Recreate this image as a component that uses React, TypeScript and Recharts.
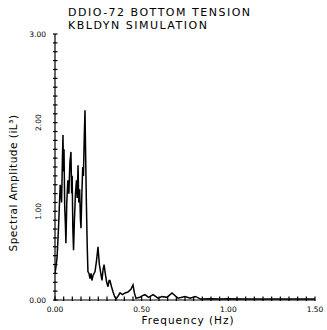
import React from "react";
import { LineChart, Line, XAxis, YAxis } from "recharts";

const freq = [
  0.0, 0.006, 0.012, 0.02, 0.03, 0.038, 0.043, 0.046, 0.049, 0.052, 0.056, 0.06, 0.063,
  0.068, 0.074, 0.08, 0.086, 0.092, 0.096, 0.099, 0.103, 0.107, 0.112, 0.118, 0.124,
  0.128, 0.133, 0.137, 0.142, 0.147, 0.15, 0.155, 0.16, 0.164, 0.169, 0.173, 0.177,
  0.181, 0.186, 0.19, 0.196, 0.202, 0.208, 0.213, 0.22, 0.231, 0.24, 0.248, 0.256,
  0.264, 0.271, 0.277, 0.283, 0.29, 0.298, 0.306, 0.312, 0.317, 0.326, 0.335, 0.344,
  0.352, 0.363, 0.375, 0.39, 0.404, 0.421, 0.438, 0.45, 0.458, 0.467, 0.49, 0.505,
  0.519, 0.54, 0.566, 0.594, 0.617, 0.646, 0.675, 0.71, 0.75, 0.78, 0.81, 0.84, 0.9,
  0.95, 1.0, 1.1, 1.2, 1.3, 1.4, 1.5,
];
const amplitude = [
  0.3, 0.38, 0.48, 0.8, 1.3, 1.1, 1.6, 1.86, 1.45, 1.7, 1.05, 0.85, 0.64,
  1.1, 1.35, 1.2, 1.55, 1.67, 1.2, 1.4, 0.8, 0.56, 0.9, 1.2, 1.35,
  1.15, 1.52, 1.1, 1.25, 0.9, 0.81, 1.2, 1.5, 1.4, 1.85, 2.14, 1.6,
  1.1, 0.6, 0.32, 0.3, 0.24, 0.3, 0.22, 0.28, 0.32, 0.45, 0.6, 0.4,
  0.3, 0.22, 0.34, 0.4, 0.3, 0.2, 0.15, 0.22, 0.22, 0.15, 0.09, 0.04,
  0.01, 0.04, 0.08, 0.06, 0.08, 0.09, 0.12, 0.17, 0.08, 0.02, 0.03, 0.05,
  0.06, 0.03, 0.06, 0.02, 0.04, 0.03, 0.08, 0.02, 0.04, 0.02, 0.04, 0.01, 0.015,
  0.01, 0.015, 0.01, 0.01, 0.01, 0.01, 0.01,
];

const yTicks = [
  0, 0.1, 0.2, 0.3, 0.4, 0.5, 0.6, 0.7, 0.8, 0.9, 1.0, 1.1, 1.2, 1.3, 1.4, 1.5, 1.6,
  1.7, 1.8, 1.9, 2.0, 2.1, 2.2, 2.3, 2.4, 2.5, 2.6, 2.7, 2.8, 2.9, 3.0,
];
const xTicks = [
  0, 0.05, 0.1, 0.15, 0.2, 0.25, 0.3, 0.35, 0.4, 0.45, 0.5, 0.55, 0.6, 0.65, 0.7, 0.75,
  0.8, 0.85, 0.9, 0.95, 1.0, 1.05, 1.1, 1.15, 1.2, 1.25, 1.3, 1.35, 1.4, 1.45, 1.5,
];
const xMajor = [0, 0.5, 1.0, 1.5];
const yMajorHorizontal = [0, 3];
const yMajorRotated = [1, 2];

const data = freq.map((f, i) => ({ f, a: amplitude[i] }));

const FONT = "'DejaVu Sans', sans-serif";

const YTick = (props: any) => {
  const { x, y, payload } = props;
  const v = payload.value;
  const near = (arr: number[]) => arr.some((m) => Math.abs(m - v) < 1e-6);
  return (
    <g>
      <line x1={x - 2} x2={x + 2.5} y1={y} y2={y} stroke="#000" strokeWidth={1.2} />
      {near(yMajorHorizontal) && (
        <text x={x - 9} y={y + 3} textAnchor="end" fontSize={7.5} fontFamily={FONT} fill="#000">
          {v.toFixed(2)}
        </text>
      )}
      {near(yMajorRotated) && (
        <text
          x={x - 14}
          y={y}
          textAnchor="middle"
          fontSize={7.5}
          fontFamily={FONT}
          fill="#000"
          transform={`rotate(-90 ${x - 14} ${y})`}
        >
          {v.toFixed(2)}
        </text>
      )}
    </g>
  );
};

const XTick = (props: any) => {
  const { x, y, payload } = props;
  const v = payload.value;
  const major = xMajor.some((m) => Math.abs(m - v) < 1e-6);
  return (
    <g>
      <line x1={x} x2={x} y1={y - 3.5} y2={y + 1} stroke="#000" strokeWidth={1.2} />
      {major && (
        <text x={x} y={y + 12} textAnchor="middle" fontSize={7.5} fontFamily={FONT} fill="#000">
          {v.toFixed(2)}
        </text>
      )}
    </g>
  );
};

export default function App() {
  return (
    <div style={{ position: "absolute", left: 0, top: 0, width: 327, height: 330, background: "#fff" }}>
      <LineChart
        width={327}
        height={330}
        data={data}
        margin={{ top: 34, right: 12, bottom: 0, left: 0 }}
      >
        <XAxis
          type="number"
          dataKey="f"
          domain={[0, 1.5]}
          ticks={xTicks}
          interval={0}
          tickSize={0}
          tickMargin={0}
          tickLine={false}
          tick={<XTick />}
          height={30}
          axisLine={{ stroke: "#000", strokeWidth: 1.2 }}
          allowDataOverflow
        />
        <YAxis
          type="number"
          domain={[0, 3]}
          ticks={yTicks}
          interval={0}
          tickSize={0}
          tickMargin={0}
          tickLine={false}
          tick={<YTick />}
          width={55}
          axisLine={{ stroke: "#000", strokeWidth: 1.2 }}
          allowDataOverflow
        />
        <Line
          type="linear"
          dataKey="a"
          stroke="#000"
          strokeWidth={1.5}
          dot={false}
          isAnimationActive={false}
        />
      </LineChart>
      <div
        style={{
          position: "absolute",
          left: 68,
          top: 6,
          fontFamily: FONT,
          fontSize: 11,
          lineHeight: "13px",
          letterSpacing: 1.5,
          color: "#000",
          whiteSpace: "pre",
        }}
      >
        {"DDIO-72 BOTTOM TENSION\nKBLDYN SIMULATION"}
      </div>
      <div
        style={{
          position: "absolute",
          left: 13,
          top: 183,
          transform: "translate(-50%, -50%) rotate(-90deg)",
          fontFamily: FONT,
          fontSize: 10.5,
          letterSpacing: 0.5,
          color: "#000",
          whiteSpace: "nowrap",
        }}
      >
        Spectral Amplitude (iL³)
      </div>
      <div
        style={{
          position: "absolute",
          left: 188,
          top: 320,
          transform: "translate(-50%, -50%)",
          fontFamily: FONT,
          fontSize: 10.5,
          letterSpacing: 1,
          color: "#000",
          whiteSpace: "nowrap",
        }}
      >
        Frequency (Hz)
      </div>
    </div>
  );
}
